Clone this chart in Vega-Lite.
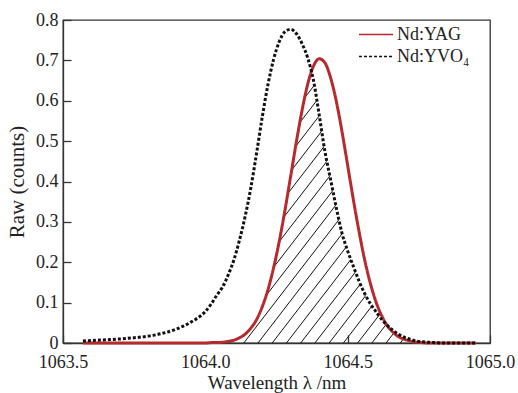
{
  "$schema": "https://vega.github.io/schema/vega-lite/v6.json",
  "width": 427,
  "height": 323,
  "autosize": {"type": "none"},
  "padding": {"left": 63, "top": 20, "right": 28, "bottom": 50},
  "background": "white",
  "config": {
    "font": "Liberation Serif",
    "view": {"stroke": "#333", "strokeWidth": 1.3},
    "axis": {
      "domainColor": "#333", "domainWidth": 1.3,
      "tickColor": "#333", "tickWidth": 1.3, "tickSize": -8,
      "labelFont": "Liberation Serif", "labelFontSize": 18, "labelColor": "#222",
      "titleFont": "Liberation Serif", "titleFontSize": 21, "titleFontWeight": "normal", "titleColor": "#222",
      "grid": false, "zindex": 1
    },
    "legend": {"labelFont": "Liberation Serif"}
  },
  "datasets": {
    "spectra": [
      {"wl": 1063.57, "yag": 0.0, "yvo": 0.005, "overlap": 0.0},
      {"wl": 1063.60, "yag": 0.0, "yvo": 0.006, "overlap": 0.0},
      {"wl": 1063.65, "yag": 0.0, "yvo": 0.008, "overlap": 0.0},
      {"wl": 1063.70, "yag": 0.0, "yvo": 0.010, "overlap": 0.0},
      {"wl": 1063.75, "yag": 0.0, "yvo": 0.013, "overlap": 0.0},
      {"wl": 1063.80, "yag": 0.0, "yvo": 0.017, "overlap": 0.0},
      {"wl": 1063.85, "yag": 0.0, "yvo": 0.024, "overlap": 0.0},
      {"wl": 1063.90, "yag": 0.0, "yvo": 0.035, "overlap": 0.0},
      {"wl": 1063.95, "yag": 0.0, "yvo": 0.052, "overlap": 0.0},
      {"wl": 1064.00, "yag": 0.0, "yvo": 0.078, "overlap": 0.0},
      {"wl": 1064.02, "yag": 0.001, "yvo": 0.096, "overlap": 0.001},
      {"wl": 1064.04, "yag": 0.001, "yvo": 0.118, "overlap": 0.001},
      {"wl": 1064.06, "yag": 0.002, "yvo": 0.138, "overlap": 0.002},
      {"wl": 1064.08, "yag": 0.004, "yvo": 0.168, "overlap": 0.004},
      {"wl": 1064.10, "yag": 0.007, "yvo": 0.205, "overlap": 0.007},
      {"wl": 1064.12, "yag": 0.013, "yvo": 0.255, "overlap": 0.013},
      {"wl": 1064.14, "yag": 0.022, "yvo": 0.314, "overlap": 0.022},
      {"wl": 1064.16, "yag": 0.037, "yvo": 0.385, "overlap": 0.037},
      {"wl": 1064.18, "yag": 0.058, "yvo": 0.470, "overlap": 0.058},
      {"wl": 1064.20, "yag": 0.090, "yvo": 0.560, "overlap": 0.090},
      {"wl": 1064.22, "yag": 0.132, "yvo": 0.640, "overlap": 0.132},
      {"wl": 1064.24, "yag": 0.187, "yvo": 0.703, "overlap": 0.187},
      {"wl": 1064.26, "yag": 0.253, "yvo": 0.747, "overlap": 0.253},
      {"wl": 1064.28, "yag": 0.330, "yvo": 0.771, "overlap": 0.330},
      {"wl": 1064.30, "yag": 0.414, "yvo": 0.777, "overlap": 0.414},
      {"wl": 1064.32, "yag": 0.499, "yvo": 0.766, "overlap": 0.499},
      {"wl": 1064.34, "yag": 0.577, "yvo": 0.741, "overlap": 0.577},
      {"wl": 1064.36, "yag": 0.642, "yvo": 0.705, "overlap": 0.642},
      {"wl": 1064.38, "yag": 0.686, "yvo": 0.650, "overlap": 0.650},
      {"wl": 1064.40, "yag": 0.704, "yvo": 0.565, "overlap": 0.565},
      {"wl": 1064.42, "yag": 0.694, "yvo": 0.475, "overlap": 0.475},
      {"wl": 1064.44, "yag": 0.657, "yvo": 0.405, "overlap": 0.405},
      {"wl": 1064.46, "yag": 0.599, "yvo": 0.335, "overlap": 0.335},
      {"wl": 1064.48, "yag": 0.524, "yvo": 0.272, "overlap": 0.272},
      {"wl": 1064.50, "yag": 0.440, "yvo": 0.228, "overlap": 0.228},
      {"wl": 1064.52, "yag": 0.355, "yvo": 0.190, "overlap": 0.190},
      {"wl": 1064.54, "yag": 0.276, "yvo": 0.153, "overlap": 0.153},
      {"wl": 1064.56, "yag": 0.205, "yvo": 0.122, "overlap": 0.122},
      {"wl": 1064.58, "yag": 0.147, "yvo": 0.097, "overlap": 0.097},
      {"wl": 1064.60, "yag": 0.101, "yvo": 0.077, "overlap": 0.077},
      {"wl": 1064.62, "yag": 0.067, "yvo": 0.058, "overlap": 0.058},
      {"wl": 1064.64, "yag": 0.042, "yvo": 0.043, "overlap": 0.042},
      {"wl": 1064.66, "yag": 0.026, "yvo": 0.031, "overlap": 0.026},
      {"wl": 1064.68, "yag": 0.015, "yvo": 0.021, "overlap": 0.015},
      {"wl": 1064.70, "yag": 0.009, "yvo": 0.014, "overlap": 0.009},
      {"wl": 1064.72, "yag": 0.005, "yvo": 0.009, "overlap": 0.005},
      {"wl": 1064.74, "yag": 0.002, "yvo": 0.005, "overlap": 0.002},
      {"wl": 1064.76, "yag": 0.001, "yvo": 0.003, "overlap": 0.001},
      {"wl": 1064.78, "yag": 0.0, "yvo": 0.002, "overlap": 0.0},
      {"wl": 1064.80, "yag": 0.0, "yvo": 0.001, "overlap": 0.0},
      {"wl": 1064.85, "yag": 0.0, "yvo": 0.0, "overlap": 0.0},
      {"wl": 1064.90, "yag": 0.0, "yvo": 0.0, "overlap": 0.0},
      {"wl": 1064.95, "yag": 0.0, "yvo": 0.0, "overlap": 0.0}
    ],
    "hatch": [
      {"wl": 1063.635, "h0": 0, "wl_end": 1064.385, "h_end": 0.686},
      {"wl": 1063.685, "h0": 0, "wl_end": 1064.435, "h_end": 0.686},
      {"wl": 1063.735, "h0": 0, "wl_end": 1064.485, "h_end": 0.686},
      {"wl": 1063.785, "h0": 0, "wl_end": 1064.535, "h_end": 0.686},
      {"wl": 1063.835, "h0": 0, "wl_end": 1064.585, "h_end": 0.686},
      {"wl": 1063.885, "h0": 0, "wl_end": 1064.635, "h_end": 0.686},
      {"wl": 1063.935, "h0": 0, "wl_end": 1064.685, "h_end": 0.686},
      {"wl": 1063.985, "h0": 0, "wl_end": 1064.735, "h_end": 0.686},
      {"wl": 1064.035, "h0": 0, "wl_end": 1064.785, "h_end": 0.686},
      {"wl": 1064.085, "h0": 0, "wl_end": 1064.8, "h_end": 0.654},
      {"wl": 1064.135, "h0": 0, "wl_end": 1064.8, "h_end": 0.608},
      {"wl": 1064.185, "h0": 0, "wl_end": 1064.8, "h_end": 0.563},
      {"wl": 1064.235, "h0": 0, "wl_end": 1064.8, "h_end": 0.517},
      {"wl": 1064.285, "h0": 0, "wl_end": 1064.8, "h_end": 0.471},
      {"wl": 1064.335, "h0": 0, "wl_end": 1064.8, "h_end": 0.425},
      {"wl": 1064.385, "h0": 0, "wl_end": 1064.8, "h_end": 0.380},
      {"wl": 1064.435, "h0": 0, "wl_end": 1064.8, "h_end": 0.334},
      {"wl": 1064.485, "h0": 0, "wl_end": 1064.8, "h_end": 0.288},
      {"wl": 1064.535, "h0": 0, "wl_end": 1064.8, "h_end": 0.242},
      {"wl": 1064.585, "h0": 0, "wl_end": 1064.8, "h_end": 0.197},
      {"wl": 1064.635, "h0": 0, "wl_end": 1064.8, "h_end": 0.151},
      {"wl": 1064.685, "h0": 0, "wl_end": 1064.8, "h_end": 0.105},
      {"wl": 1064.735, "h0": 0, "wl_end": 1064.8, "h_end": 0.059}
    ]
  },
  "encoding": {
    "x": {"field": "wl", "type": "quantitative", "scale": {"domain": [1063.5, 1065.0], "nice": false, "zero": false},
      "title": "Wavelength λ /nm",
      "axis": {"values": [1063.5, 1064.0, 1064.5, 1065.0], "format": ".1f", "labelPadding": 18, "labelFlush": false,
        "titleFontSize": 19, "titleX": 213.5, "titleY": 45, "titleBaseline": "alphabetic", "titleAlign": "center"}}
  },
  "layer": [
    {
      "data": {"name": "hatch"},
      "mark": {"type": "rule", "color": "#111", "strokeWidth": 1},
      "encoding": {
        "x2": {"field": "wl_end"},
        "y": {"field": "h0", "type": "quantitative", "scale": {"domain": [0, 0.8], "nice": false}, "title": "Raw (counts)",
          "axis": {"values": [0, 0.1, 0.2, 0.3, 0.4, 0.5, 0.6, 0.7, 0.8],
            "labelExpr": "datum.value === 0 ? '0' : format(datum.value, '.1f')", "labelPadding": 13,
            "titleX": -46, "titleY": 161.5, "titleAngle": -90, "titleAlign": "center", "titleBaseline": "middle"}},
        "y2": {"field": "h_end"}
      }
    },
    {
      "data": {"name": "spectra"},
      "mark": {"type": "area", "fill": "white", "opacity": 1, "interpolate": "monotone"},
      "encoding": {
        "y": {"field": "overlap", "type": "quantitative", "scale": {"domain": [0, 0.8], "nice": false}, "title": "Raw (counts)"},
        "y2": {"datum": 0.75}
      }
    },
    {
      "data": {"name": "spectra"},
      "transform": [{"fold": ["yag", "yvo"], "as": ["series", "value"]}],
      "mark": {"type": "line", "strokeWidth": 3, "interpolate": "monotone"},
      "encoding": {
        "y": {"field": "value", "type": "quantitative", "scale": {"domain": [0, 0.8], "nice": false}, "title": "Raw (counts)"},
        "color": {"field": "series", "type": "nominal",
          "scale": {"domain": ["yag", "yvo"], "range": ["#b52a2e", "#111111"]},
          "legend": {"orient": "none", "legendX": 303.5, "legendY": 5, "title": null, "padding": 0,
            "symbolType": "M-2,0H2", "symbolSize": 289, "symbolStrokeWidth": 1.5,
            "labelFontSize": 18, "labelColor": "#222", "labelOffset": 11.5, "rowPadding": 3,
            "labelExpr": "datum.label == 'yag' ? 'Nd:YAG' : 'Nd:YVO₄'"}},
        "strokeDash": {"field": "series", "type": "nominal",
          "scale": {"domain": ["yag", "yvo"], "range": [[1, 0], [3, 2]]},
          "legend": {"orient": "none", "legendX": 303.5, "legendY": 5, "title": null, "padding": 0,
            "symbolType": "M-2,0H2", "symbolSize": 289, "symbolStrokeWidth": 1.5,
            "labelFontSize": 18, "labelColor": "#222", "labelOffset": 11.5, "rowPadding": 3,
            "labelExpr": "datum.label == 'yag' ? 'Nd:YAG' : 'Nd:YVO₄'"}}
      }
    }
  ]
}
